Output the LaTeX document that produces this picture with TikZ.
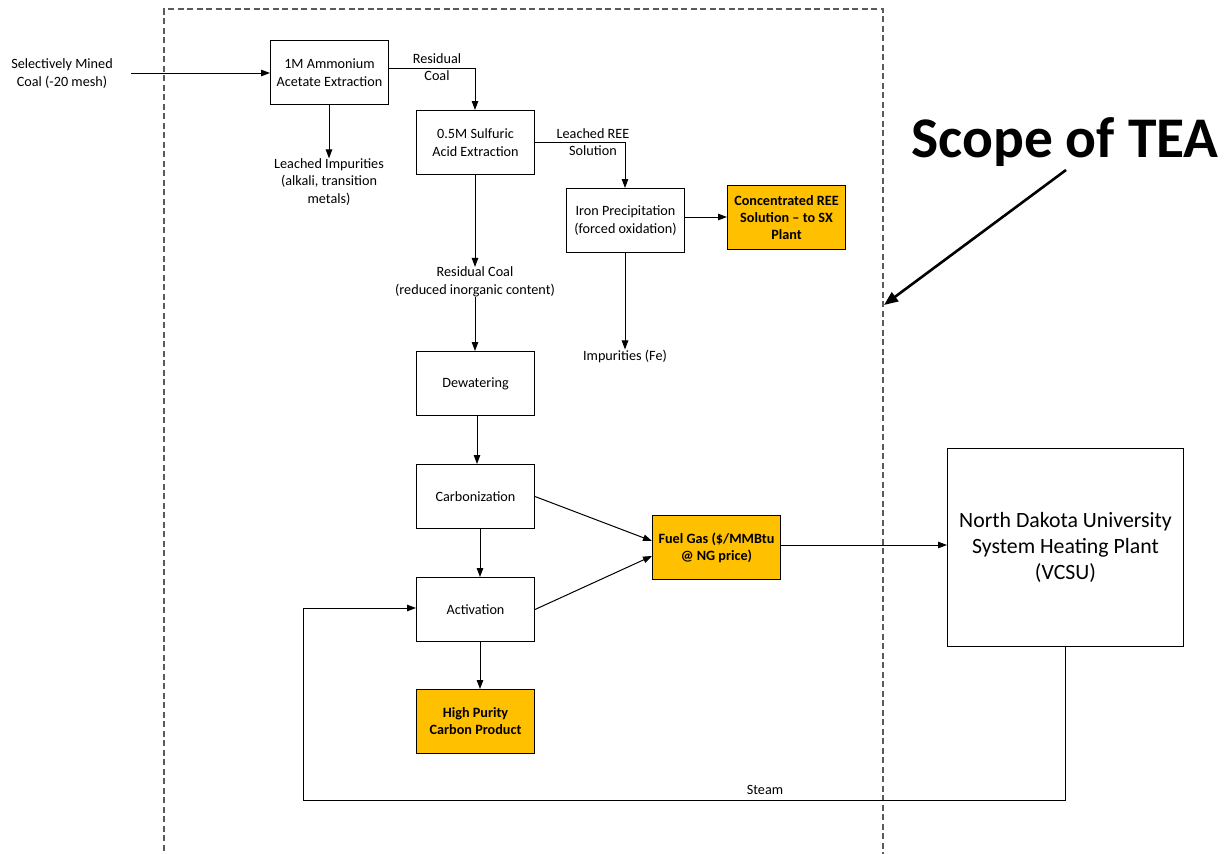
\documentclass[tikz,border=0pt]{standalone}
\usepackage{fontspec}
\setmainfont{Carlito}
\usetikzlibrary{arrows.meta}
\definecolor{prodorange}{HTML}{FFC000}
\definecolor{scopegray}{HTML}{5A5A5A}
\begin{document}
\begin{tikzpicture}[x={(1pt,0)},y={(0,-1pt)},
  every node/.style={font=\fontsize{14.2}{17.5}\selectfont},
  procbox/.style={draw=black,line width=1pt,minimum width=118pt,minimum height=64pt,
    align=center,inner sep=2pt,anchor=north west},
  prodbox/.style={procbox,fill=prodorange,font=\fontsize{14.2}{17}\selectfont\bfseries},
  lbl/.style={align=center,inner sep=0pt},
  flow/.style={line width=1pt,-{Triangle[length=9pt,width=6.5pt]}},
  plainline/.style={line width=1pt}]
\useasboundingbox (0,0) rectangle (1229,854);
\fill[white] (0,0) rectangle (1229,854);

% scope boundary
\draw[scopegray,line width=1.3pt,dash pattern=on 6pt off 3.5pt]
  (164,860) -- (164,9) -- (883,9) -- (883,860);

% process blocks
\node[procbox] (amm) at (270,40) {1M Ammonium\\Acetate Extraction};
\node[procbox] (sulf) at (416,110) {0.5M Sulfuric\\Acid Extraction};
\node[procbox] (iron) at (566,188) {Iron Precipitation\\(forced oxidation)};
\node[prodbox] (ree) at (727,185) {Concentrated REE\\Solution -- to SX\\Plant};
\node[procbox] (dew) at (416,351) {Dewatering};
\node[procbox] (carb) at (416,464) {Carbonization};
\node[procbox] (act) at (416,577) {Activation};
\node[prodbox] (hpc) at (416,689) {High Purity\\Carbon Product};
\node[prodbox,minimum width=128pt] (fuel) at (652,515) {Fuel Gas (\$/MMBtu\\@ NG price)};
\node[procbox,minimum width=236pt,minimum height=198pt,
  font=\fontsize{21.8}{26}\selectfont] (ndus) at (947,448)
  {North Dakota University\\System Heating Plant\\(VCSU)};

% stream labels
\node[lbl] (feed) at (62,73.5) {Selectively Mined\\Coal (-20 mesh)};
\node[lbl] (rc1) at (437,67) {Residual\\Coal};
\node[lbl] (limp) at (329,182) {Leached Impurities\\(alkali, transition\\metals)};
\node[lbl] (lree) at (593,142) {Leached REE\\Solution};
\node[lbl] (rc2) at (475,282) {Residual Coal\\(reduced inorganic content)};
\node[lbl] (fe) at (625,356) {Impurities (Fe)};
\node[lbl] (steam) at (765,790) {Steam};
\node[lbl,font=\fontsize{57.5}{64}\selectfont\bfseries] (scope) at (1065,142) {Scope of TEA};

% connectors
\coordinate (feedend) at (131,73);
\draw[flow] (feedend) -- (amm.west |- feedend);
\draw[flow] (amm.east |- 0,68) -| (sulf.north -| 475,0);
\draw[flow] (amm.south -| 329,0) -- (limp.north -| 329,0);
\draw[flow] (sulf.east |- 0,142) -| (iron.north -| 625,0);
\draw[flow] (iron.east |- 0,217) -- (ree.west |- 0,217);
\draw[flow] (iron.south -| 625,0) -- (fe.north -| 625,0);
\draw[flow] (sulf.south -| 475,0) -- (rc2.north -| 475,0);
\draw[flow] (rc2.south -| 475,0) -- (dew.north -| 475,0);
\draw[flow] (dew.south -| 477,0) -- (carb.north -| 477,0);
\draw[flow] (carb.south -| 480,0) -- (act.north -| 480,0);
\draw[flow] (act.south -| 480,0) -- (hpc.north -| 480,0);
\draw[flow] (carb.east) -- (fuel.west |- 0,541);
\draw[flow] (act.east) -- (fuel.west |- 0,556);
\draw[flow] (fuel.east |- 0,545) -- (ndus.west |- 0,545);
\draw[flow] (ndus.south -| 1065,0) -- (1065,800) -- (303,800) -- (303,608) -- (act.west |- 0,608);

% scope pointer
\coordinate (scopetip) at (884,305);
\draw[line width=2.6pt,-{Triangle[length=14pt,width=11pt]}] (1066,170) -- (scopetip);
\end{tikzpicture}
\end{document}
